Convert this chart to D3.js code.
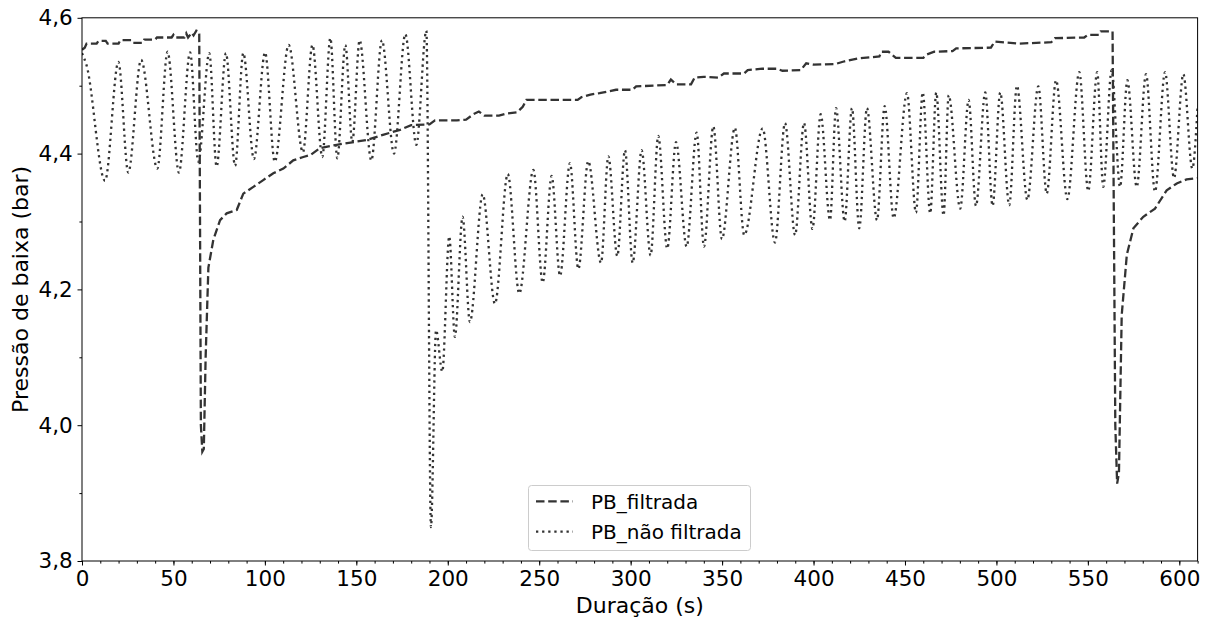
<!DOCTYPE html>
<html><head><meta charset="utf-8">
<script src="https://cdn.jsdelivr.net/npm/d3@7/dist/d3.min.js"></script>
<style>
html,body{margin:0;padding:0;background:#fff;}
svg{display:block;font-family:"DejaVu Sans",sans-serif;}
</style></head>
<body><svg id="chart" width="1212" height="619"></svg>
<script>
// ---- data ----
const xTicks = [0,50,100,150,200,250,300,350,400,450,500,550,600];
const yTicks = [3.8,4.0,4.2,4.4,4.6];
const yTickLabels = ["3,8","4,0","4,2","4,4","4,6"];
const seriesNames = ["PB_filtrada","PB_não filtrada"];

// PB_filtrada (dashed)
const filteredT = [0,1.5,2.5,8,9,13,14,20,21,27,28,33,34,40,41,49,50,51,56,57,58,60,61,62.5,64.1,65.0,65.8,66.6,67.6,69.1,71.8,75.5,79.1,84.6,88.2,93.7,99.1,104.6,110.1,115.5,121,125,130.1,139.3,155.7,165,173.9,180,190,193,205,210,214,217,220,228,232,238,241,243,271,273,278,283,292,301,303,320,322,325,333,335,340,348,351,362,364,372,380,383,393,396,400,412,417,424,436,437,441,445,460,462,466,476,478,497,499,512,530,532,548,550,556,557,563.5,565.0,566.0,567.0,568.5,571.3,574.9,580.3,586.7,593.1,598.6,604,610];
const filteredV = [4.553,4.556,4.562,4.562,4.566,4.566,4.562,4.562,4.567,4.567,4.563,4.563,4.568,4.568,4.571,4.571,4.575,4.571,4.571,4.577,4.571,4.578,4.574,4.581,4.579,4.00,3.961,3.965,4.10,4.232,4.273,4.302,4.312,4.317,4.341,4.351,4.361,4.371,4.378,4.390,4.395,4.398,4.408,4.413,4.420,4.428,4.435,4.442,4.443,4.449,4.449,4.450,4.458,4.462,4.456,4.456,4.459,4.461,4.469,4.479,4.479,4.483,4.487,4.489,4.494,4.494,4.499,4.501,4.509,4.502,4.502,4.512,4.513,4.512,4.518,4.518,4.523,4.525,4.525,4.522,4.523,4.533,4.531,4.532,4.536,4.540,4.543,4.550,4.550,4.541,4.541,4.546,4.550,4.551,4.555,4.556,4.565,4.562,4.564,4.570,4.571,4.575,4.575,4.580,4.580,4.00,3.914,3.930,4.162,4.251,4.290,4.307,4.319,4.346,4.356,4.362,4.364];

// PB_não filtrada (dotted) - peaks and troughs
const rawT = [0,2.5,12.6,19.9,25.3,32.3,41.2,46.8,53.0,59.1,63.6,69.6,73.6,78.7,83.7,88.2,94.0,100.1,105.4,113.0,120.8,126.0,131.4,135.8,139.6,144.0,147.8,151.8,158.2,164.0,170.6,176.8,182.8,188.3,190.8,193.6,197.0,200.8,203.9,208.1,212.1,219.1,225.8,232.8,239.1,246.8,251.9,256.8,261.4,266.8,271.4,276.8,283.8,287.8,292.7,296.9,301.1,306.0,310.9,315.1,320.0,324.8,330.6,336.1,340.1,345.2,349.9,357.0,362.1,372.2,378.9,384.4,389.9,394.8,399.4,403.9,409.0,412.3,417.0,421.0,425.0,429.2,434.7,438.9,443.8,451.1,456.0,459.7,463.8,467.1,471.1,473.9,480.2,484.8,488.8,493.9,497.9,502.1,507.0,511.2,516.9,522.9,527.5,532.6,538.8,545.3,550.2,555.1,558.4,563.0,567.6,571.6,576.7,581.8,586.7,592.2,597.1,602.2,607.1,610];
const rawV = [4.548,4.530,4.360,4.535,4.372,4.538,4.378,4.550,4.372,4.549,4.388,4.548,4.381,4.548,4.382,4.548,4.392,4.549,4.388,4.560,4.402,4.560,4.395,4.570,4.393,4.560,4.417,4.567,4.390,4.567,4.400,4.576,4.413,4.581,3.850,4.140,4.079,4.278,4.130,4.307,4.152,4.340,4.179,4.370,4.194,4.376,4.210,4.367,4.220,4.386,4.230,4.389,4.239,4.396,4.249,4.405,4.239,4.405,4.250,4.426,4.260,4.417,4.263,4.431,4.263,4.440,4.274,4.438,4.280,4.437,4.269,4.445,4.280,4.445,4.289,4.458,4.302,4.467,4.300,4.467,4.290,4.467,4.302,4.470,4.305,4.489,4.313,4.490,4.312,4.490,4.309,4.486,4.319,4.479,4.323,4.490,4.323,4.490,4.324,4.500,4.332,4.499,4.341,4.508,4.333,4.520,4.345,4.520,4.351,4.523,4.351,4.508,4.351,4.517,4.344,4.520,4.364,4.517,4.378,4.470];

// ---- layout ----
const W = 1212, H = 619;
const m = {left:82, top:17.8, right:1212-1197.6, bottom:619-561};
const iw = W - m.left - m.right, ih = H - m.top - m.bottom;
const ink = "#333333";

const svg = d3.select("#chart");
const x = d3.scaleLinear().domain([0,610]).range([0, iw]);
const y = d3.scaleLinear().domain([3.8,4.6]).range([ih, 0]);

const g = svg.append("g").attr("transform", `translate(${m.left},${m.top})`);

g.append("clipPath").attr("id","clip").append("rect")
  .attr("width", iw).attr("height", ih);

const filtered = filteredT.map((t,i)=>[t, filteredV[i]]);
const raw = rawT.map((t,i)=>[t, rawV[i]]);

const lineLin = d3.line().x(d=>x(d[0])).y(d=>y(d[1]));
const lineSmooth = d3.line().x(d=>x(d[0])).y(d=>y(d[1])).curve(d3.curveMonotoneX);

const plot = g.append("g").attr("clip-path","url(#clip)");
plot.append("path").datum(raw)
  .attr("d", lineSmooth).attr("fill","none").attr("stroke", ink)
  .attr("stroke-width", 2.3).attr("stroke-dasharray","2.3,3.8");
plot.append("path").datum(filtered)
  .attr("d", lineLin).attr("fill","none").attr("stroke", ink)
  .attr("stroke-width", 2.3).attr("stroke-dasharray","8.5,3.7");

// ---- axes ----
const fontTick = 21.5;
const xAxis = d3.axisBottom(x).tickValues(xTicks).tickFormat(d3.format("d"))
  .tickSizeInner(4.5).tickSizeOuter(0).tickPadding(5);
const xMinor = d3.axisBottom(x).tickValues(d3.range(0, 611, 10))
  .tickSizeInner(2.6).tickSizeOuter(0).tickFormat("");
const yAxis = d3.axisLeft(y).tickValues(yTicks).tickFormat((d,i)=>yTickLabels[i])
  .tickSizeInner(4.5).tickSizeOuter(0).tickPadding(4.8);
const yMinor = d3.axisLeft(y).tickValues([3.9,4.1,4.3,4.5])
  .tickSizeInner(2.6).tickSizeOuter(0).tickFormat("");

function style(sel){
  sel.select(".domain").remove();
  sel.selectAll("line").attr("stroke","#000").attr("stroke-width",1);
  sel.selectAll("text").attr("fill","#000").style("font-size", fontTick+"px")
     .style("font-family","'DejaVu Sans',sans-serif");
}
g.append("g").attr("transform",`translate(0,${ih})`).call(xMinor).call(style);
g.append("g").attr("transform",`translate(0,${ih})`).call(xAxis).call(style);
g.append("g").call(yMinor).call(style);
g.append("g").call(yAxis).call(style);

// spines
g.append("rect").attr("width", iw).attr("height", ih)
  .attr("fill","none").attr("stroke","#000").attr("stroke-width",1);

// axis labels
svg.append("text").attr("x", m.left + iw/2).attr("y", 613.3)
  .attr("text-anchor","middle").style("font-size","22px").attr("fill","#000")
  .text("Duração (s)");
svg.append("text").attr("transform", `translate(28.3,${m.top + ih/2}) rotate(-90)`)
  .attr("text-anchor","middle").style("font-size","22px").attr("fill","#000")
  .text("Pressão de baixa (bar)");

// legend
const lg = svg.append("g");
lg.append("rect").attr("x",528.5).attr("y",485.5).attr("width",222).attr("height",65)
  .attr("rx",3).attr("ry",3).attr("fill","#fff").attr("fill-opacity",0.8)
  .attr("stroke","#cccccc").attr("stroke-width",1);
const rows = [{y:501.3, dash:"8.5,3.7"},{y:531.7, dash:"2.3,3.8"}];
rows.forEach((r,i)=>{
  lg.append("line").attr("x1",536).attr("x2",573).attr("y1",r.y).attr("y2",r.y)
    .attr("stroke",ink).attr("stroke-width",2.3).attr("stroke-dasharray",r.dash);
  lg.append("text").attr("x",591).attr("y",r.y+7.2).style("font-size","20px")
    .attr("fill","#000").text(seriesNames[i]);
});
</script>
</body></html>
